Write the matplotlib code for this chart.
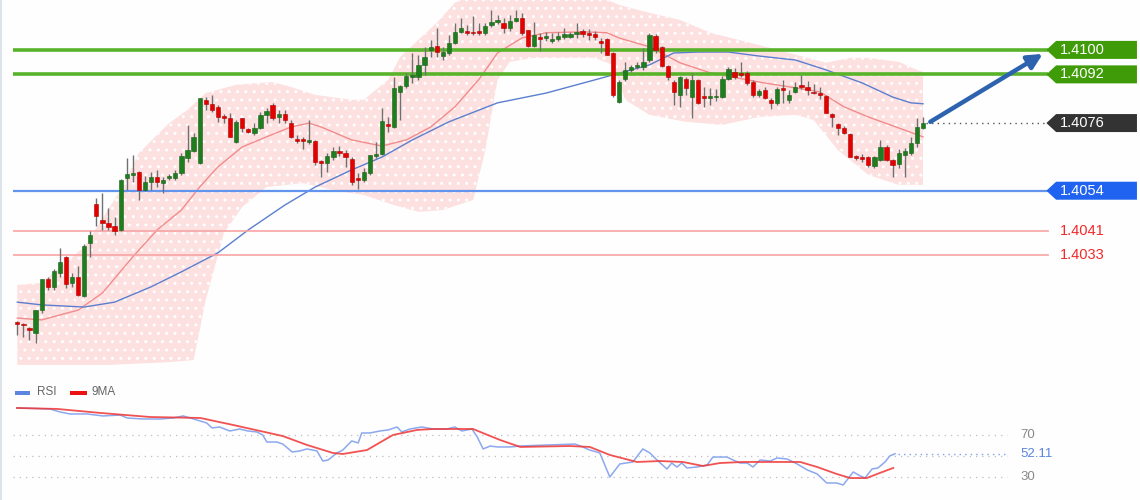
import numpy as np
import matplotlib
matplotlib.use("Agg")
import matplotlib.pyplot as plt
from matplotlib.patches import Polygon, Rectangle

plt.rcParams['font.family'] = ['Liberation Sans', 'DejaVu Sans']

# candles (one per bar)
open_ = [1.40111, 1.40105, 1.40092, 1.40075, 1.40150, 1.40252, 1.40226, 1.40271, 1.40324, 1.40239,
         1.40258, 1.40196, 1.40369, 1.40497, 1.40444, 1.40435, 1.40425, 1.40412, 1.40582, 1.40592,
         1.40601, 1.40543, 1.40569, 1.40585, 1.40565, 1.40582, 1.40582, 1.40598, 1.40647, 1.40670,
         1.40631, 1.40837, 1.40824, 1.40814, 1.40781, 1.40778, 1.40699, 1.40778, 1.40742, 1.40729,
         1.40745, 1.40788, 1.40820, 1.40781, 1.40791, 1.40761, 1.40709, 1.40706, 1.40699, 1.40703,
         1.40637, 1.40631, 1.40650, 1.40670, 1.40663, 1.40644, 1.40582, 1.40575, 1.40598, 1.40654,
         1.40660, 1.40758, 1.40748, 1.40863, 1.40882, 1.40912, 1.40912, 1.40951, 1.41000, 1.41013,
         1.40980, 1.40990, 1.41023, 1.41059, 1.41062, 1.41056, 1.41062, 1.41056, 1.41082, 1.41092,
         1.41088, 1.41072, 1.41095, 1.41105, 1.41065, 1.41013, 1.41042, 1.41039, 1.41029, 1.41036,
         1.41042, 1.41042, 1.41052, 1.41062, 1.41056, 1.41052, 1.41029, 1.41036, 1.40990, 1.40830,
         1.40905, 1.40935, 1.40944, 1.40944, 1.40967, 1.41046, 1.41010, 1.40948, 1.40895, 1.40853,
         1.40905, 1.40846, 1.40902, 1.40846, 1.40843, 1.40846, 1.40846, 1.40905, 1.40928, 1.40925,
         1.40925, 1.40895, 1.40853, 1.40869, 1.40837, 1.40827, 1.40876, 1.40837, 1.40863, 1.40882,
         1.40879, 1.40863, 1.40859, 1.40850, 1.40791, 1.40758, 1.40745, 1.40726, 1.40654, 1.40650,
         1.40650, 1.40621, 1.40641, 1.40683, 1.40641, 1.40627, 1.40657, 1.40663, 1.40696, 1.40745]
high = [1.40114, 1.40108, 1.40095, 1.40150, 1.40252, 1.40258, 1.40284, 1.40353, 1.40327, 1.40271,
        1.40294, 1.40366, 1.40408, 1.40516, 1.40533, 1.40484, 1.40454, 1.40578, 1.40647, 1.40657,
        1.40604, 1.40588, 1.40601, 1.40608, 1.40585, 1.40595, 1.40608, 1.40663, 1.40755, 1.40729,
        1.40843, 1.40846, 1.40853, 1.40820, 1.40791, 1.40794, 1.40771, 1.40778, 1.40745, 1.40761,
        1.40797, 1.40810, 1.40827, 1.40804, 1.40804, 1.40771, 1.40722, 1.40716, 1.40771, 1.40706,
        1.40641, 1.40663, 1.40683, 1.40686, 1.40673, 1.40650, 1.40598, 1.40614, 1.40657, 1.40699,
        1.40810, 1.40781, 1.40912, 1.40886, 1.40925, 1.40990, 1.40984, 1.41010, 1.41033, 1.41072,
        1.41010, 1.41049, 1.41088, 1.41105, 1.41082, 1.41111, 1.41088, 1.41088, 1.41131, 1.41114,
        1.41105, 1.41114, 1.41131, 1.41121, 1.41065, 1.41092, 1.41056, 1.41059, 1.41056, 1.41059,
        1.41072, 1.41059, 1.41088, 1.41069, 1.41069, 1.41062, 1.41039, 1.41039, 1.40994, 1.40902,
        1.40961, 1.40951, 1.40961, 1.41007, 1.41056, 1.41052, 1.41013, 1.40951, 1.40902, 1.40915,
        1.40912, 1.40925, 1.40905, 1.40879, 1.40876, 1.40872, 1.40915, 1.40944, 1.40941, 1.40961,
        1.40931, 1.40902, 1.40872, 1.40879, 1.40843, 1.40879, 1.40902, 1.40869, 1.40895, 1.40918,
        1.40899, 1.40889, 1.40879, 1.40853, 1.40794, 1.40761, 1.40752, 1.40729, 1.40657, 1.40660,
        1.40654, 1.40654, 1.40706, 1.40690, 1.40644, 1.40676, 1.40680, 1.40716, 1.40778, 1.40781]
low = [1.40069, 1.40062, 1.40052, 1.40043, 1.40140, 1.40216, 1.40216, 1.40258, 1.40222, 1.40226,
       1.40196, 1.40193, 1.40324, 1.40425, 1.40412, 1.40412, 1.40395, 1.40409, 1.40543, 1.40569,
       1.40510, 1.40539, 1.40543, 1.40552, 1.40533, 1.40575, 1.40575, 1.40592, 1.40634, 1.40667,
       1.40627, 1.40804, 1.40797, 1.40765, 1.40761, 1.40716, 1.40696, 1.40732, 1.40729, 1.40722,
       1.40742, 1.40761, 1.40771, 1.40761, 1.40761, 1.40712, 1.40696, 1.40676, 1.40693, 1.40624,
       1.40585, 1.40601, 1.40641, 1.40654, 1.40618, 1.40559, 1.40546, 1.40569, 1.40592, 1.40647,
       1.40657, 1.40732, 1.40745, 1.40771, 1.40876, 1.40892, 1.40902, 1.40918, 1.40977, 1.40977,
       1.40967, 1.40984, 1.41020, 1.41056, 1.41049, 1.41049, 1.41049, 1.41049, 1.41075, 1.41085,
       1.41056, 1.41062, 1.41092, 1.41049, 1.41010, 1.41010, 1.40997, 1.41029, 1.41023, 1.41029,
       1.41036, 1.41039, 1.41039, 1.41042, 1.41033, 1.41033, 1.40990, 1.40984, 1.40846, 1.40827,
       1.40899, 1.40928, 1.40938, 1.40935, 1.40961, 1.40990, 1.40944, 1.40902, 1.40820, 1.40814,
       1.40853, 1.40778, 1.40824, 1.40814, 1.40820, 1.40833, 1.40843, 1.40902, 1.40905, 1.40912,
       1.40886, 1.40846, 1.40846, 1.40840, 1.40807, 1.40820, 1.40827, 1.40827, 1.40859, 1.40873,
       1.40853, 1.40856, 1.40840, 1.40794, 1.40748, 1.40722, 1.40726, 1.40650, 1.40641, 1.40634,
       1.40618, 1.40614, 1.40637, 1.40637, 1.40585, 1.40614, 1.40585, 1.40657, 1.40683, 1.40742]
close = [1.40105, 1.40101, 1.40085, 1.40150, 1.40252, 1.40226, 1.40278, 1.40307, 1.40235, 1.40258,
         1.40199, 1.40360, 1.40395, 1.40458, 1.40435, 1.40422, 1.40409, 1.40575, 1.40595, 1.40598,
         1.40543, 1.40569, 1.40585, 1.40569, 1.40575, 1.40588, 1.40598, 1.40654, 1.40673, 1.40716,
         1.40843, 1.40824, 1.40804, 1.40781, 1.40778, 1.40716, 1.40765, 1.40745, 1.40732, 1.40745,
         1.40788, 1.40801, 1.40778, 1.40791, 1.40771, 1.40716, 1.40703, 1.40703, 1.40706, 1.40634,
         1.40631, 1.40654, 1.40670, 1.40663, 1.40650, 1.40569, 1.40575, 1.40601, 1.40657, 1.40660,
         1.40768, 1.40752, 1.40876, 1.40882, 1.40915, 1.40918, 1.40951, 1.40977, 1.41010, 1.40993,
         1.40993, 1.41023, 1.41059, 1.41072, 1.41056, 1.41054, 1.41056, 1.41078, 1.41092, 1.41098,
         1.41072, 1.41095, 1.41105, 1.41056, 1.41013, 1.41049, 1.41036, 1.41042, 1.41036, 1.41046,
         1.41052, 1.41052, 1.41059, 1.41052, 1.41049, 1.41042, 1.41023, 1.40984, 1.40853, 1.40895,
         1.40935, 1.40944, 1.40951, 1.40961, 1.41049, 1.41000, 1.40948, 1.40912, 1.40863, 1.40912,
         1.40876, 1.40902, 1.40827, 1.40843, 1.40846, 1.40846, 1.40905, 1.40938, 1.40912, 1.40918,
         1.40892, 1.40853, 1.40866, 1.40843, 1.40827, 1.40873, 1.40869, 1.40853, 1.40879, 1.40879,
         1.40869, 1.40859, 1.40853, 1.40794, 1.40781, 1.40745, 1.40729, 1.40650, 1.40647, 1.40644,
         1.40624, 1.40650, 1.40683, 1.40641, 1.40624, 1.40663, 1.40670, 1.40696, 1.40748, 1.40761]

# bollinger band edges and moving averages, read at a few bars
upper_idx = [0, 4, 11, 17, 20, 25, 28, 31, 36, 42, 45, 49, 55, 57, 61, 63, 66, 69, 72, 75,
             80, 90, 95, 99, 104, 109, 114, 122, 133, 137, 140, 145, 148, 149]
upper_val = [1.40232, 1.40239, 1.40356, 1.40542, 1.40663, 1.40761, 1.40804, 1.40859, 1.40886, 1.40895,
             1.40879, 1.40853, 1.40837, 1.40837, 1.40902, 1.40977, 1.41033, 1.41088, 1.41154, 1.41180,
             1.41196, 1.41196, 1.41180, 1.41147, 1.41121, 1.41098, 1.41056, 1.41016, 1.40958, 1.40974,
             1.40974, 1.40961, 1.40935, 1.40928]
lower_idx = [0, 15, 25, 29, 31, 34, 37, 41, 47, 52, 57, 62, 66, 70, 75, 77, 79, 81, 85, 95,
             98, 100, 104, 110, 116, 122, 128, 131, 135, 140, 145, 149]
lower_val = [1.39971, 1.39971, 1.39980, 1.39987, 1.40183, 1.40402, 1.40487, 1.40552, 1.40565, 1.40542,
             1.40526, 1.40493, 1.40471, 1.40477, 1.40510, 1.40673, 1.40902, 1.40961, 1.40974, 1.40974,
             1.40951, 1.40837, 1.40788, 1.40765, 1.40755, 1.40781, 1.40788, 1.40771, 1.40673, 1.40592,
             1.40559, 1.40559]
ma_red_idx = [0, 4, 10, 14, 19, 23, 27, 30, 33, 37, 41, 45, 48, 50, 55, 60, 64, 68, 72, 76,
              79, 83, 87, 93, 97, 99, 104, 109, 114, 122, 128, 132, 136, 140, 145, 149]
ma_red_val = [1.40124, 1.40118, 1.40150, 1.40206, 1.40324, 1.40412, 1.40477, 1.40552, 1.40618, 1.40683,
              1.40716, 1.40748, 1.40761, 1.40748, 1.40706, 1.40686, 1.40706, 1.40748, 1.40814, 1.40905,
              1.40990, 1.41039, 1.41056, 1.41059, 1.41056, 1.41039, 1.41010, 1.40958, 1.40925, 1.40895,
              1.40876, 1.40863, 1.40814, 1.40781, 1.40745, 1.40716]
ma_blue_idx = [0, 4, 11, 16, 22, 27, 33, 38, 44, 49, 55, 60, 65, 71, 79, 87, 95, 104, 108, 112,
               117, 122, 128, 133, 139, 144, 147, 149]
ma_blue_val = [1.40176, 1.40167, 1.40160, 1.40176, 1.40226, 1.40275, 1.40337, 1.40412, 1.40493, 1.40552,
               1.40608, 1.40650, 1.40706, 1.40765, 1.40827, 1.40859, 1.40902, 1.40951, 1.40990, 1.40993,
               1.40993, 1.40980, 1.40967, 1.40935, 1.40892, 1.40846, 1.40827, 1.40824]

# support / resistance levels
resist = [1.4100, 1.4092]
support = 1.4054
minor = [1.4041, 1.4033]

# RSI panel
rsi_pos = [0, 5.6, 7.3, 9, 11.9, 14.6, 17.5, 18.7, 21.4, 24.3, 26.5, 28.2, 29.4, 31.1, 32.2, 33.1,
           34.4, 36.1, 37.8, 39.2, 40.7, 41.7, 42.4, 44.1, 45.1, 46.7, 48.0, 49.2, 50.9, 51.9, 52.8,
           54.3, 55.3, 56.8, 57.9, 58.5, 59.9, 61.6, 63.0, 64.5, 65.3, 66.7, 68.7, 70.6, 73.0, 74.3,
           75.5, 77.2, 78.1, 79.1, 80.3, 81.5, 83.7, 85.4, 94.7, 96.0, 97.2, 98.9, 100.6, 102.3,
           104.5, 106.2, 107.4, 108.6, 110.3, 111.1, 112.0, 112.8, 113.7, 115.4, 117.1, 118.1, 119.6,
           120.5, 121.5, 122.7, 123.9, 124.9, 126.1, 127.8, 129.0, 130.7, 132.4, 134.1, 135.8, 137.4,
           139.1, 140.2, 141.9, 143.1, 143.9, 145.1, 146.1, 147.3, 148.1, 149]
rsi_val = [95.7, 94.8, 91.9, 90.0, 90.0, 88.1, 89.0, 86.2, 85.2, 85.2, 86.2, 88.1, 86.2, 83.3, 81.4, 76.7,
           77.6, 73.8, 75.7, 73.8, 72.9, 70.0, 63.3, 63.3, 61.4, 53.8, 54.8, 56.7, 54.8, 45.2, 46.2,
           52.9, 55.7, 64.3, 62.4, 71.9, 71.9, 73.8, 74.8, 77.6, 72.9, 75.7, 77.6, 75.7, 75.7, 77.6,
           73.8, 75.7, 68.1, 56.7, 59.5, 58.6, 58.6, 59.5, 61.4, 58.6, 55.7, 52.9, 30.0, 42.4,
           44.3, 56.7, 52.9, 46.2, 37.6, 43.3, 39.5, 43.3, 38.6, 39.5, 41.4, 49.0, 49.0,
           49.0, 46.2, 43.3, 43.3, 39.5, 46.2, 45.2, 48.1, 47.1, 42.4, 36.7, 32.9, 24.3,
           24.3, 22.4, 34.8, 31.0, 29.0, 37.6, 38.6, 44.3, 50.0, 52.11]
ma9_pos = [0, 6.8, 14.1, 22.6, 31.1, 36.7, 45.1, 49.2, 53.6, 55.3, 59.4, 63.8, 67.9, 70.6, 77.4, 78.6,
           82.0, 85.4, 93.8, 97.2, 100.6, 105.2, 109.1, 113.0, 116.4, 119.3, 123.2, 127.8, 132.9,
           135.8, 139.1, 141.4, 144.2, 146.4, 148.7]
ma9_val = [95.7, 94.8, 91.0, 87.1, 86.2, 79.5, 69.0, 60.5, 52.9, 51.9, 55.7, 70.0, 74.8, 75.7, 75.7, 72.9,
           65.2, 58.6, 59.5, 58.6, 51.0, 44.3, 45.2, 44.3, 40.5, 43.3, 44.3, 44.3, 44.3,
           39.5, 32.9, 29.0, 29.0, 33.8, 38.6]
rsi_levels = [70, 50, 30]

o = np.array(open_)
h = np.array(high)
l = np.array(low)
c = np.array(close)
idx = np.arange(len(c))

bg = '#fdfefd'
fig = plt.figure(figsize=(11.4, 5.0), dpi=100, facecolor=bg)
ax = fig.add_axes([13/1140, 0.25, 1127/1140, 0.75])
ax.set_facecolor(bg)
XMAX = 184.7
ax.set_xlim(-0.71, XMAX)
ax.set_ylim(1.39938, 1.41163)
ax.axis('off')
line_end = 169.6

# bollinger band
poly_x = list(upper_idx) + list(lower_idx[::-1])
poly_y = list(upper_val) + list(lower_val[::-1])
band = Polygon(np.column_stack([poly_x, poly_y]), closed=True, facecolor='#fde0e0',
               edgecolor='white', lw=0, hatch='..', zorder=1)
ax.add_patch(band)
plt.rcParams['hatch.linewidth'] = 0.6

ax.plot(ma_red_idx, ma_red_val, color='#f28b8b', lw=1.0, zorder=2)
ax.plot(ma_blue_idx, ma_blue_val, color='#5b7fcf', lw=1.0, zorder=2)

# levels
for lv in resist:
    ax.plot([-0.71, line_end], [lv, lv], color='#58b32a', lw=2.6, zorder=3, solid_capstyle='butt')
ax.plot([-0.71, line_end], [support, support], color='#6394ee', lw=1.6, zorder=3)
for lv in minor:
    ax.plot([-0.71, line_end], [lv, lv], color='#f7a4a4', lw=1.2, zorder=3)

# candles
up = c >= o
body_lo = np.minimum(o, c)
body_h = np.maximum(np.abs(c - o), 0.00005)
ax.vlines(idx, l, h, color='#707070', lw=1.0, zorder=4)
ax.bar(idx[up], body_h[up], bottom=body_lo[up], width=0.7, color='#1e7d1e',
       edgecolor='#1a601a', lw=0.4, zorder=5)
ax.bar(idx[~up], body_h[~up], bottom=body_lo[~up], width=0.7, color='#e50000',
       edgecolor='#b00000', lw=0.4, zorder=5)

# last price dotted
last = c[-1]
ax.plot([idx[-1] + 0.5, line_end], [last, last], color='#555555', lw=1.0, ls=(0, (1, 3)), zorder=3)

# arrow to target
ax.annotate('', xy=(168.7, 1.40987), xytext=(idx[-1] + 1.2, last + 0.00004),
            arrowprops=dict(arrowstyle='-|>', color='#2d62ae', lw=3.2, mutation_scale=22,
                            shrinkA=0, shrinkB=0), zorder=6)

# price tags
hh = 0.000294
def tag(y, txt, color):
    pts = [(line_end - 0.3, y), (170.9, y + hh), (184.2, y + hh), (184.2, y - hh), (170.9, y - hh)]
    ax.add_patch(Polygon(pts, closed=True, facecolor=color, edgecolor='none', zorder=6))
    ax.text(171.6, y, txt, color='white', fontsize=10.5, va='center', ha='left', zorder=7)

tag(resist[0], '1.4100', '#3f9c08')
tag(resist[1], '1.4092', '#3f9c08')
tag(last, '%.4f' % last, '#333333')
tag(support, '1.4054', '#1f63f0')
for lv in minor:
    ax.text(171.6, lv, '%.4f' % lv, color='#f22a2a', fontsize=10.5, va='center', ha='left')

# RSI panel
ax2 = fig.add_axes([12.8/1140, 0.0, 1092.6/1140, 0.2])
ax2.set_facecolor(bg)
ax2.patch.set_alpha(0)
ax2.set_xlim(-0.71, XMAX)
ax2.set_ylim(8.1, 103.3)
ax2.axis('off')
rsi_end = 168
for lv in rsi_levels:
    ax2.plot([-0.71, rsi_end], [lv, lv], color='#bdbdbd', lw=0.9, ls=(0, (1, 4)))
ax2.plot(rsi_pos, rsi_val, color='#8ca8ee', lw=1.1)
ax2.plot(ma9_pos, ma9_val, color='#f03434', lw=1.3, alpha=0.85)
ax2.plot([rsi_pos[-1] + 0.5, rsi_end], [rsi_val[-1], rsi_val[-1]], color='#7e9ef0', lw=1.0, ls=(0, (1, 3)))
ax2.text(170.2, 70, '70', color='#8a8a8a', fontsize=9.5, va='center', ha='left')
ax2.text(170.2, 30, '30', color='#8a8a8a', fontsize=9.5, va='center', ha='left')
ax2.text(170.2, rsi_val[-1], '%.2f' % rsi_val[-1], color='#5b85e0', fontsize=9.5, va='center', ha='left')

# legend
fig.patches.append(Rectangle((15/1140, 1 - 395/500), 15/1140, 4/500, transform=fig.transFigure,
                             facecolor='#5b85e0', edgecolor='none'))
fig.text(37/1140, 1 - 392/500, 'RSI', color='#666666', fontsize=8.5, va='center')
fig.patches.append(Rectangle((70/1140, 1 - 395/500), 17/1140, 4/500, transform=fig.transFigure,
                             facecolor='#ee1111', edgecolor='none'))
fig.text(92/1140, 1 - 392/500, '9MA', color='#666666', fontsize=8.5, va='center')

# thin left border
fig.lines.append(plt.Line2D([1/1140, 1/1140], [0, 1], transform=fig.transFigure, color='#d8dde8', lw=1.2))

fig.savefig('out.png', dpi=100, facecolor=bg)
